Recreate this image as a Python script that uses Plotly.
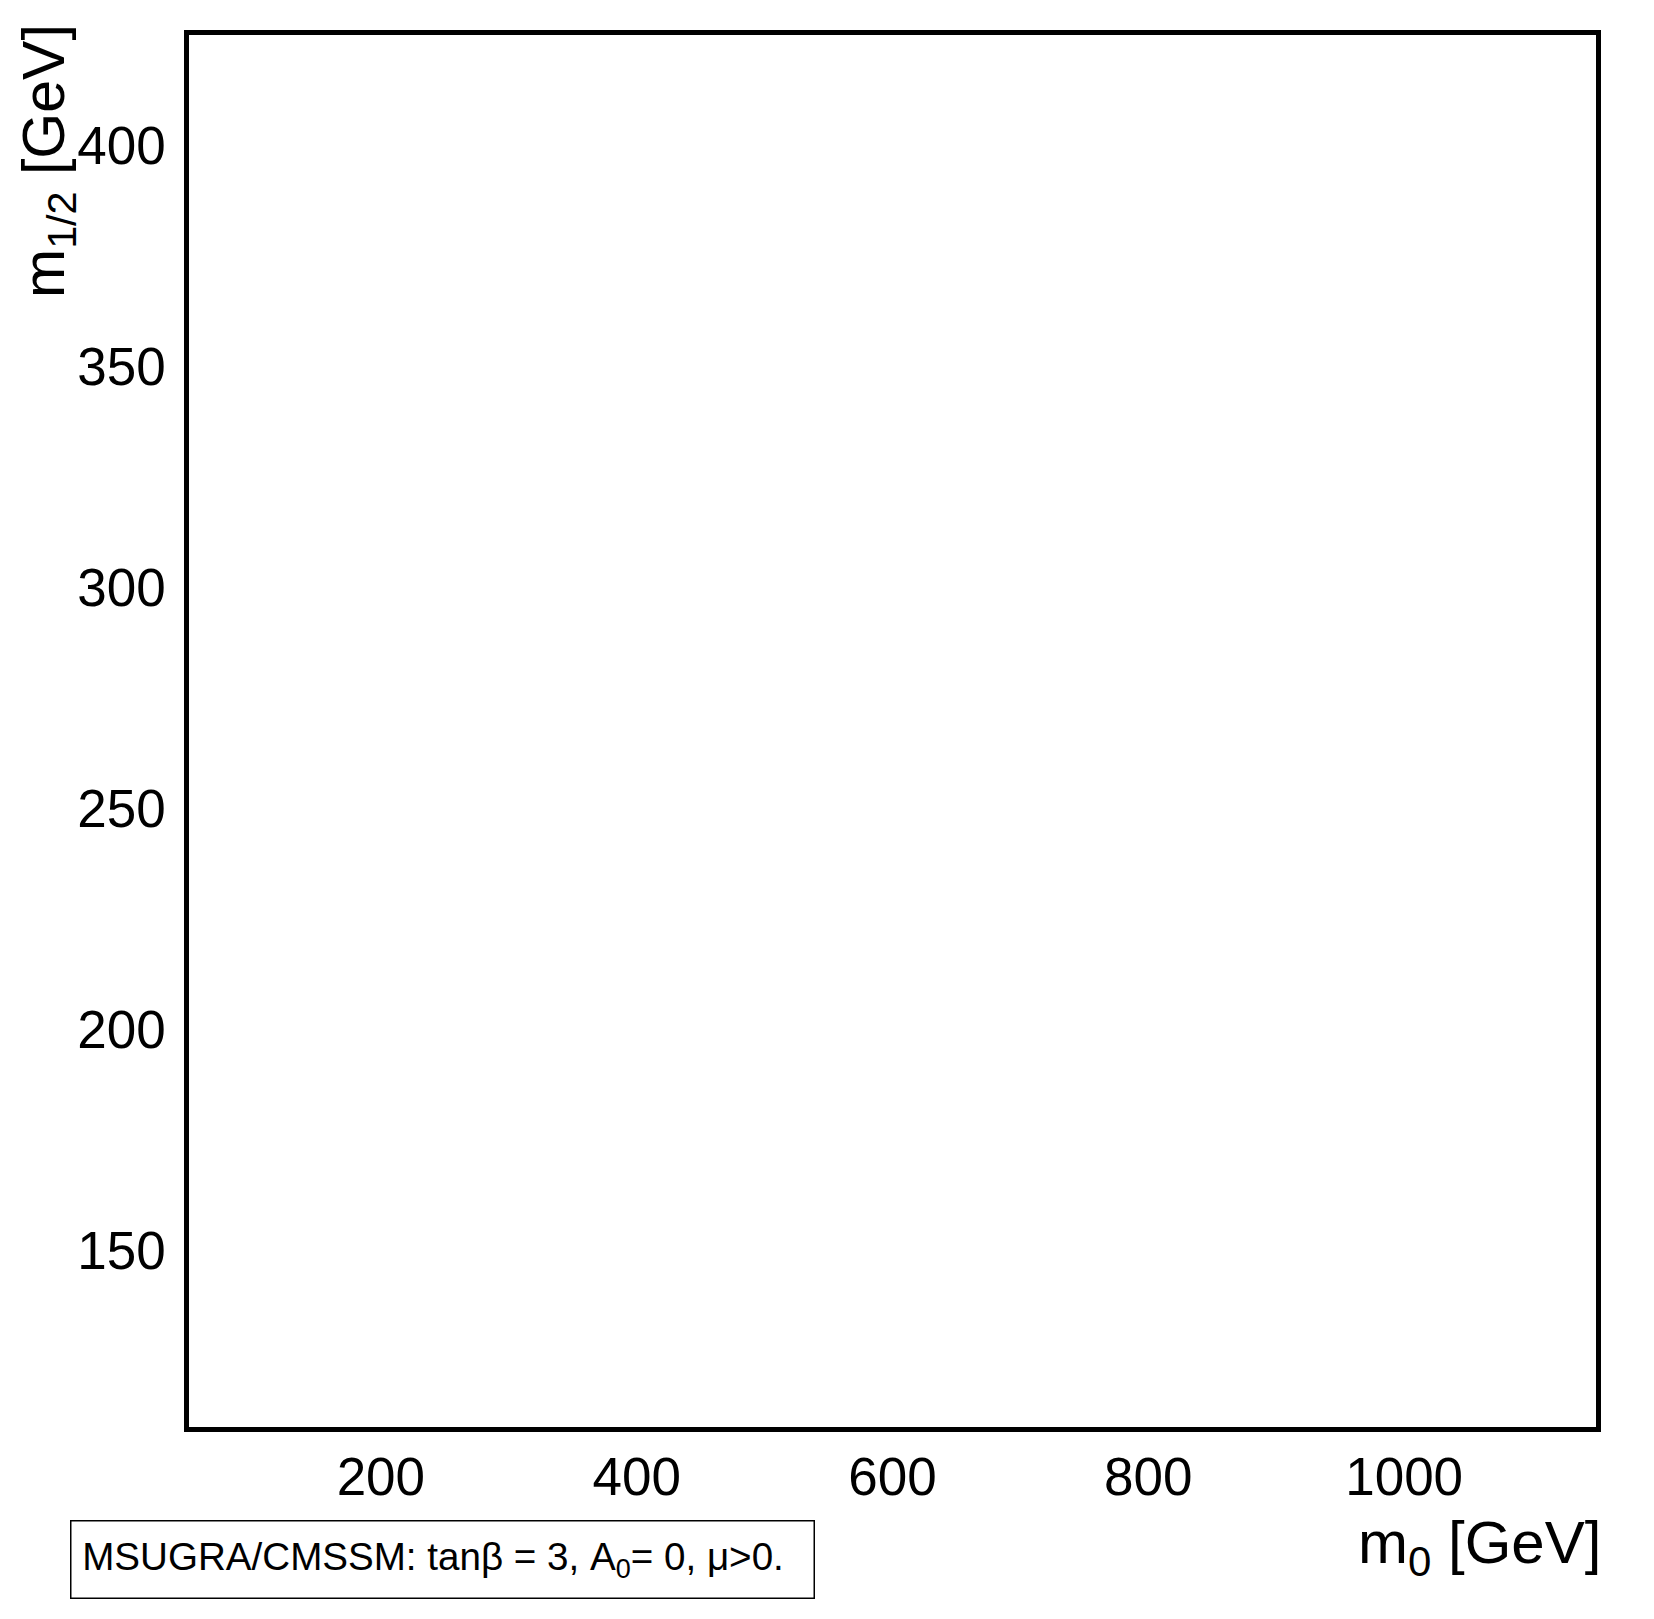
import plotly.graph_objects as go

# Axis ranges and tick values
x_range = [50, 1150]
y_range = [110, 425]
x_ticks = [200, 400, 600, 800, 1000]
y_ticks = [150, 200, 250, 300, 350, 400]
x_title = "m<sub>0</sub> [GeV]"
y_title = "m<sub>1/2</sub> [GeV]"
legend_text = "MSUGRA/CMSSM: tanβ = 3, A<sub>0</sub>= 0, μ>0."

W, H = 1654, 1619
L, R, T, B = 181, 66, 27, 200
pw, ph = W - L - R, H - T - B
OFF = 8  # default body margin of the page


def px(xpix):
    return (xpix - OFF - L) / pw


def py(ypix):
    return 1 - (ypix - OFF - T) / ph


FONT = "Liberation Sans, Arial, Helvetica, sans-serif"

fig = go.Figure()
fig.add_trace(go.Scatter(x=[], y=[], mode="lines", showlegend=False))

fig.update_layout(
    width=W, height=H,
    margin=dict(l=L, r=R, t=T, b=B, pad=0),
    paper_bgcolor="white", plot_bgcolor="white",
    font=dict(family=FONT, color="black"),
    showlegend=False,
)
fig.update_xaxes(
    range=x_range, tickvals=x_ticks, showgrid=False, zeroline=False,
    showline=True, mirror=True, linecolor="black", linewidth=4.5,
    ticks="", ticklen=0,
    tickfont=dict(size=53, family=FONT, color="black"),
)
fig.update_yaxes(
    range=y_range, tickvals=y_ticks, showgrid=False, zeroline=False,
    showline=True, mirror=True, linecolor="black", linewidth=4.5,
    ticks="outside", ticklen=8, tickcolor="rgba(0,0,0,0)",
    tickfont=dict(size=53, family=FONT, color="black"),
)

# axis titles
fig.add_annotation(
    text=x_title, xref="paper", yref="paper", x=px(1603), y=py(1507),
    xanchor="right", yanchor="top", showarrow=False,
    font=dict(size=60, family=FONT, color="black"),
)
fig.add_annotation(
    text=y_title, xref="paper", yref="paper", x=px(48), y=py(22),
    xanchor="center", yanchor="top", textangle=-90, showarrow=False,
    font=dict(size=59, family=FONT, color="black"),
)
# info box
fig.add_annotation(
    text="\u2009" + legend_text, xref="paper", yref="paper",
    x=px(442), y=py(1559),
    xanchor="center", yanchor="middle", showarrow=False,
    width=736, height=70, align="left", borderpad=3,
    bordercolor="black", borderwidth=1.5, bgcolor="white",
    font=dict(size=38.6, family=FONT, color="black"),
)

fig.write_html("out.html")
